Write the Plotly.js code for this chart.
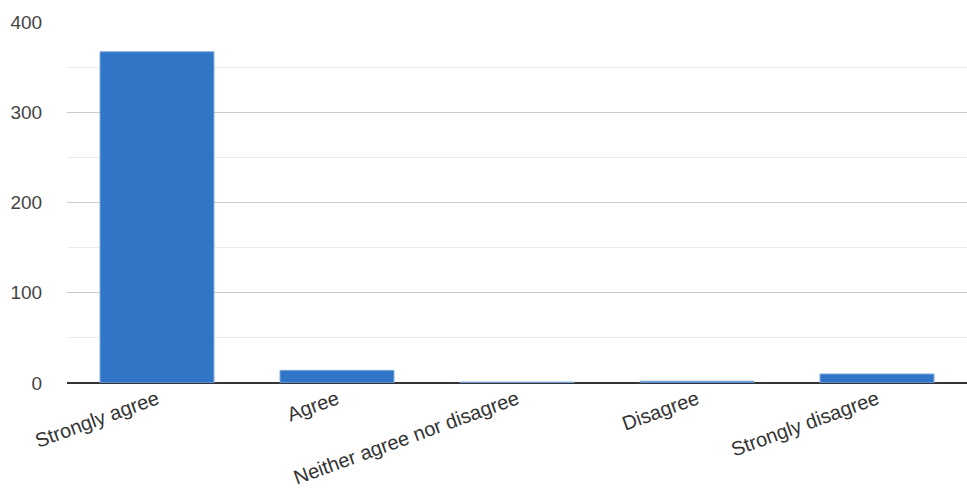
<!DOCTYPE html>
<html>
<head>
<meta charset="utf-8">
<script src="https://cdn.plot.ly/plotly-3.0.1.min.js"></script>
<style>
  html, body { margin: 0; padding: 0; background: #fff; }
  #chart { width: 967px; height: 494px; }
</style>
</head>
<body>
<div id="chart"></div>
<script>
// Survey responses per answer option
const categories = [
  "Strongly agree",
  "Agree",
  "Neither agree nor disagree",
  "Disagree",
  "Strongly disagree"
];
const counts = [367, 14, 1, 2, 10];
const yTicks = [0, 100, 200, 300, 400];

const trace = {
  type: "bar",
  x: categories,
  y: counts,
  marker: {
    color: "#3075c6",
    line: { color: "#7ea8dc", width: 1 }
  },
  hoverinfo: "x+y"
};

const layout = {
  width: 967,
  height: 494,
  margin: { l: 67, r: 0, t: 22, b: 111 },
  paper_bgcolor: "#ffffff",
  plot_bgcolor: "#ffffff",
  showlegend: false,
  bargap: 0.367,
  font: { family: "Liberation Sans, Arial, sans-serif", size: 19, color: "#444444" },
  xaxis: {
    type: "category",
    tickangle: -20,
    showgrid: false,
    showline: false,
    zeroline: false,
    ticks: "",
    tickfont: { size: 20, color: "#333333" }
  },
  yaxis: {
    range: [0, 400],
    tickvals: yTicks,
    ticktext: yTicks.map(String),
    showgrid: true,
    gridcolor: "#cccccc",
    gridwidth: 1,
    zeroline: true,
    zerolinecolor: "#333333",
    zerolinewidth: 1.5,
    showline: false,
    ticks: "outside",
    ticklen: 20,
    tickcolor: "rgba(0,0,0,0)",
    tickfont: { size: 19, color: "#444444" },
    minor: {
      dtick: 50,
      showgrid: true,
      gridcolor: "#ebebeb",
      gridwidth: 1
    }
  }
};

Plotly.newPlot("chart", [trace], layout, { displayModeBar: false, staticPlot: true });
</script>
</body>
</html>
